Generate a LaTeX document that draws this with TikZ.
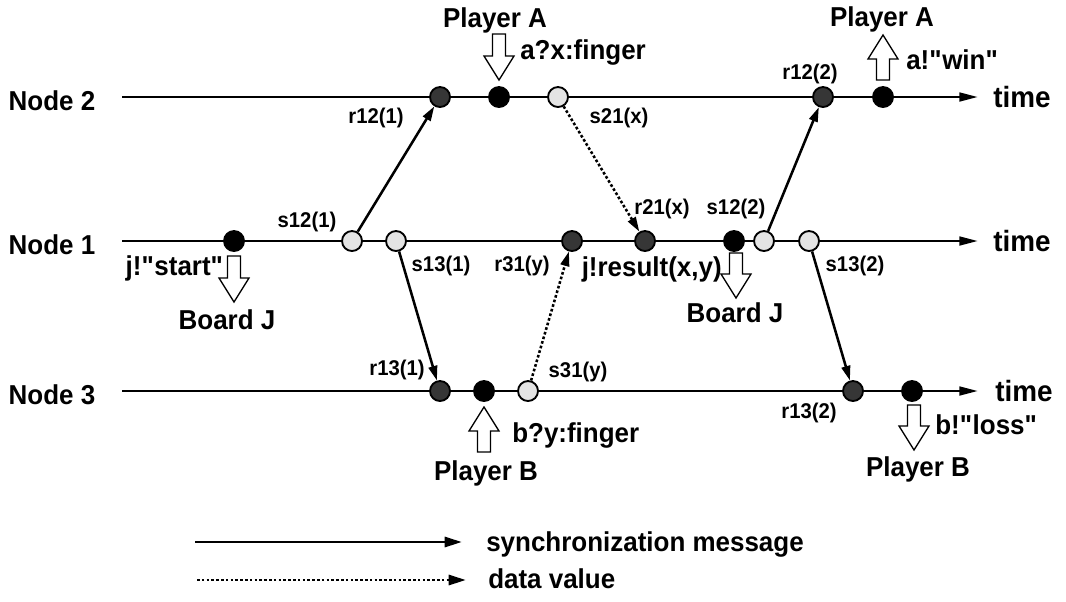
\documentclass[tikz,border=0pt]{standalone}
\usepackage{fontspec}
\setmainfont{Liberation Sans}[FakeStretch=0.95]
\usetikzlibrary{arrows.meta}
\definecolor{dotdark}{HTML}{363636}
\definecolor{dotlight}{HTML}{E4E4E4}
\begin{document}
\begin{tikzpicture}[x=0.75pt,y=-0.75pt,
  lbig/.style={font=\fontsize{20.5}{23}\selectfont\bfseries, inner sep=0pt, text height=14.7pt, text depth=0pt},
  lsmall/.style={font=\fontsize{16}{18}\selectfont\bfseries, inner sep=0pt, text height=11.5pt, text depth=0pt},
  ltime/.style={font=\fontsize{22}{25}\selectfont\bfseries, inner sep=0pt, text height=15.75pt, text depth=0pt},
  timeline/.style={line width=2pt, -{Triangle[length=14pt,width=6.5pt]}},
  msg/.style={line width=1.9pt, -{Triangle[length=11pt,width=6.5pt]}},
  datamsg/.style={msg, dash pattern=on 2pt off 1.6pt},
  evt/.style={circle, draw=black, line width=1.4pt, minimum size=15pt, inner sep=0pt},
  recv/.style={evt, fill=dotdark},
  send/.style={evt, fill=dotlight},
  extio/.style={evt, fill=black},
  blockarr/.style={draw=black, fill=white, line width=1pt},
  pics/hollow/.style={code={
    \draw[blockarr] (-6.5,0) -- (-6.5,#1-24) -- (-15,#1-24) -- (0,#1)
      -- (15,#1-24) -- (6.5,#1-24) -- (6.5,0) -- cycle;}}
]
\useasboundingbox (0,0) rectangle (1066,601);

% process lines
\node[lbig] (node2) at (52,101) {Node 2};
\node[lbig] (node1) at (52,245) {Node 1};
\node[lbig] (node3) at (52,395) {Node 3};
\coordinate (l2s) at (122,97);  \coordinate (l2e) at (978,97);
\coordinate (l1s) at (122,241); \coordinate (l1e) at (978,241);
\coordinate (l3s) at (122,391); \coordinate (l3e) at (978,391);
\draw[timeline] (l2s) -- (l2e);
\draw[timeline] (l1s) -- (l1e);
\draw[timeline] (l3s) -- (l3e);
\node[ltime] (t2) at (1022,97) {time};
\node[ltime] (t1) at (1022,241) {time};
\node[ltime] (t3) at (1024,391) {time};

% events on node 2
\node[recv]  (r12a) at (440,97) {};
\node[extio] (ax)   at (499,97) {};
\node[send]  (s21)  at (558,97) {};
\node[recv]  (r12b) at (823,97) {};
\node[extio] (aw)   at (883,97) {};

% events on node 1
\node[extio] (js)   at (234,241) {};
\node[send]  (s12a) at (352,241) {};
\node[send]  (s13a) at (396,241) {};
\node[recv]  (r31)  at (572,241) {};
\node[recv]  (r21)  at (645,241) {};
\node[extio] (jr)   at (734,241) {};
\node[send]  (s12b) at (764,241) {};
\node[send]  (s13b) at (809,241) {};

% events on node 3
\node[recv]  (r13a) at (440,391) {};
\node[extio] (by)   at (484,391) {};
\node[send]  (s31)  at (528,391) {};
\node[recv]  (r13b) at (853,391) {};
\node[extio] (bl)   at (912,391) {};

% messages
\draw[msg] (s12a) -- (r12a);
\draw[msg] (s13a) -- (r13a);
\draw[datamsg] (s21) -- (r21);
\draw[datamsg] (s31) -- (r31);
\draw[msg] (s12b) -- (r12b);
\draw[msg] (s13b) -- (r13b);

% event labels
\node[lsmall] (lr12a) at (376,116) {r12(1)};
\node[lsmall] (ls21)  at (619,116) {s21(x)};
\node[lsmall] (lr12b) at (810,72)  {r12(2)};
\node[lsmall] (ls12a) at (307,220) {s12(1)};
\node[lsmall] (ls13a) at (441,264) {s13(1)};
\node[lsmall] (lr31)  at (522,264) {r31(y)};
\node[lsmall] (lr21)  at (662,207) {r21(x)};
\node[lsmall] (ls12b) at (736,207) {s12(2)};
\node[lsmall] (ls13b) at (855,264) {s13(2)};
\node[lsmall] (lr13a) at (397,368) {r13(1)};
\node[lsmall] (ls31)  at (578,370) {s31(y)};
\node[lsmall] (lr13b) at (809,411) {r13(2)};

% environment interaction
\node[lbig] (pa1) at (495,18) {Player A};
\pic at (499,34) {hollow=46};
\node[lbig, anchor=west] (ain) at (520,50) {a?x:finger};

\node[lbig] (pa2) at (882,17) {Player A};
\pic[rotate=180] at (883,80) {hollow=45};
\node[lbig, anchor=west] (aout) at (906,60) {a!\textquotedbl win\textquotedbl};

\node[lbig, anchor=east] (jst) at (224,266) {j!\textquotedbl start\textquotedbl};
\pic at (234,256) {hollow=46};
\node[lbig] (bj1) at (227,320) {Board J};

\node[lbig, anchor=east] (jres) at (722,267) {j!result(x,y)};
\pic at (736,253) {hollow=45};
\node[lbig] (bj2) at (735,313) {Board J};

\pic[rotate=180] at (484,452) {hollow=45};
\node[lbig, anchor=west] (bin) at (512,433) {b?y:finger};
\node[lbig] (pb1) at (486,471) {Player B};

\pic at (914,405) {hollow=45};
\node[lbig, anchor=west] (bout) at (935,425) {b!\textquotedbl loss\textquotedbl};
\node[lbig] (pb2) at (918,467) {Player B};

% legend
\coordinate (ka) at (195,542); \coordinate (kb) at (462,542);
\coordinate (kc) at (197,580); \coordinate (kd) at (466,580);
\draw[msg, line width=2.2pt, -{Triangle[length=13pt,width=7.5pt]}] (ka) -- (kb);
\draw[datamsg, line width=2.2pt, -{Triangle[length=13pt,width=7.5pt]}] (kc) -- (kd);
\node[lbig, anchor=west] (ksync) at (486,542) {synchronization message};
\node[lbig, anchor=west] (kdata) at (488,579) {data value};
\end{tikzpicture}
\end{document}
